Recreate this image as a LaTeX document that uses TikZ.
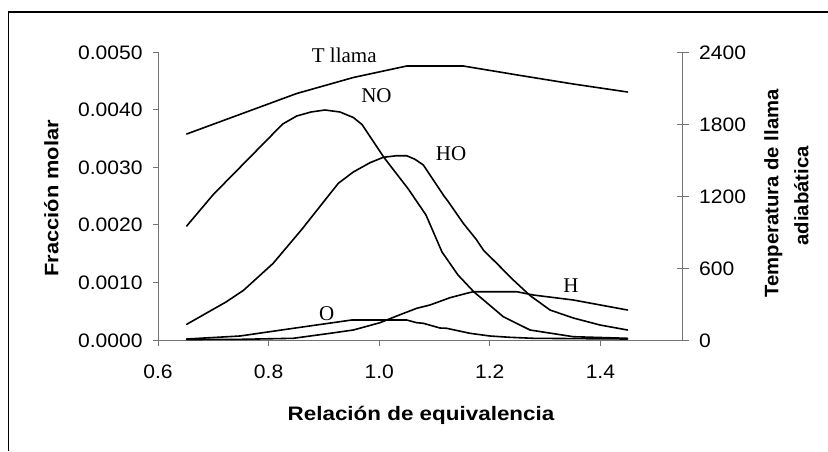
\documentclass[tikz,border=0pt]{standalone}
\usepackage{fontspec}
\setmainfont{Liberation Serif}
\newfontfamily\axfont[FakeStretch=1.08]{Liberation Sans}
\newfontfamily\xlabfont[FakeStretch=1.15]{Liberation Sans}
\newfontfamily\ylabfont[FakeStretch=1.12]{Liberation Sans}
\newfontfamily\tlabfont[FakeStretch=1.04]{Liberation Sans}
\definecolor{axgray}{gray}{0.45}
\begin{document}
\begin{tikzpicture}[x=1pt,y=-1pt,
  curve/.style={line width=1.6pt, black, line join=round, line cap=round},
  axisline/.style={line width=1pt, axgray},
  ticklab/.style={font=\axfont\fontsize{19.5}{22}\selectfont, inner sep=0pt},
  serlab/.style={font=\fontsize{21}{24}\selectfont, inner sep=0pt, anchor=base},
  axtitle/.style={font=\bfseries\fontsize{19.5}{22}\selectfont, inner sep=0pt, anchor=base}]
\useasboundingbox (0,0) rectangle (828,451);
% outer frame (cut off at right and bottom)
\draw[line width=1.2pt] (8.5,451) -- (8.5,12) -- (828,12);
% axes
\draw[axisline] (158,52) -- (158,346);
\draw[axisline] (158,340) -- (682.7,340);
\draw[axisline] (682.7,52) -- (682.7,340);
% left ticks
\foreach \i/\lab in {0/0.0000,1/0.0010,2/0.0020,3/0.0030,4/0.0040,5/0.0050}{
  \draw[axisline] (152.5,{340-57.6*\i}) -- (158,{340-57.6*\i});
  \node[ticklab, anchor=base east] (ly\i) at (142.7,{347-57.6*\i}) {\lab};
}
% right ticks
\foreach \i/\lab in {0/0,1/600,2/1200,3/1800,4/2400}{
  \draw[axisline] (677,{340-72*\i}) -- (688.5,{340-72*\i});
  \node[ticklab, anchor=base west] (ry\i) at (699,{347-72*\i}) {\lab};
}
% x ticks
\foreach \i/\lab in {0/0.6,1/0.8,2/1.0,3/1.2,4/1.4}{
  \draw[axisline] ({158+110.6*\i},340) -- ({158+110.6*\i},346);
  \node[ticklab, anchor=base] (xt\i) at ({158+110.6*\i},378) {\lab};
}
% curves
\draw[curve] plot coordinates {(186.7,134) (241,114) (296.7,93.5) (353.3,77.5) (406.7,66) (463.3,66) (517.5,75) (573.3,84) (627.5,92)};
\draw[curve] plot coordinates {(186.7,226) (213.3,194.5) (282.7,124) (296.7,116) (311,112) (325,110) (340,112) (353.3,117.5) (362,124.5) (384,157.5) (408.3,189) (426,215) (442,252) (458,275) (474,292) (480,297) (503.3,316.7) (530,330) (573.3,336.7) (627.5,338.3)};
\draw[curve] plot coordinates {(186.7,324.3) (226,302) (243.3,290.5) (273,263.5) (301.7,229.5) (338.3,183.3) (353.3,172) (370,162.7) (383.3,157.3) (396.7,155.7) (406.7,155.7) (415,159.3) (423.3,165) (443.3,195) (448.3,201.7) (463.3,223.3) (476.7,240) (483.3,250) (496.7,263.3) (513.3,280) (530,295.5) (550,310) (573.3,318) (600,325) (627.5,330)};
\draw[curve] plot coordinates {(186.7,339.5) (241.7,339.3) (293.3,338.3) (330,333.3) (353.3,330) (380,322.7) (396.7,316) (416.7,308.3) (430,305) (450,297.7) (466.7,293.3) (473.3,291.7) (516.7,291.7) (533.3,295) (573.3,300) (627.5,310)};
\draw[curve] plot coordinates {(186.7,339) (240,336) (293.3,328.3) (351.7,320) (406.7,320) (416.7,322.7) (423.3,323.3) (440,328) (446.7,328.3) (470,333.3) (490,336) (510,337.3) (533.3,338.3) (627.5,339)};
% curve labels
\node[serlab, anchor=base west] (tl) at (311.7,62.7) {T llama};
\node[serlab] (no) at (376.5,102) {NO};
\node[serlab] (ho) at (451,160) {HO};
\node[serlab] (o) at (326.8,320) {O};
\node[serlab] (h) at (571,292.5) {H};
% axis titles
\node[axtitle, font=\xlabfont\bfseries\fontsize{19.5}{22}\selectfont] (xlab) at (421,420) {Relación de equivalencia};
\node[axtitle, font=\ylabfont\bfseries\fontsize{19.5}{22}\selectfont, rotate=90] (ylab) at (58.3,198.3) {Fracción molar};
\node[axtitle, font=\tlabfont\bfseries\fontsize{19.5}{22}\selectfont, rotate=90] (tlabA) at (778.3,193.3) {Temperatura de llama};
\node[axtitle, font=\tlabfont\bfseries\fontsize{19.5}{22}\selectfont, rotate=90] (tlabB) at (808.3,195.8) {adiabática};
\end{tikzpicture}
\end{document}
